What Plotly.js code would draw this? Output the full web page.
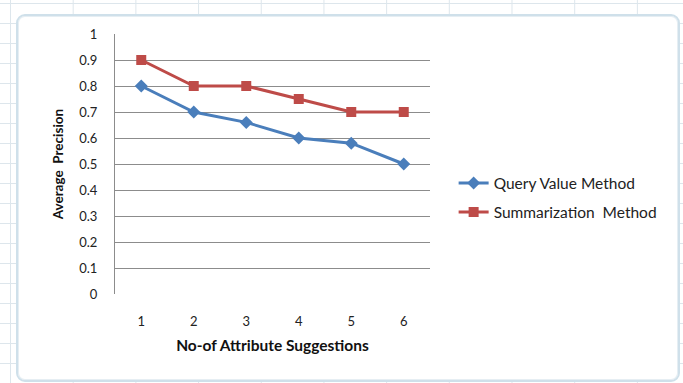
<!DOCTYPE html>
<html>
<head>
<meta charset="utf-8">
<script src="https://cdn.plot.ly/plotly-3.0.1.min.js"></script>
<style>
  html, body { margin: 0; padding: 0; background: #ffffff; }
  #wrap { position: relative; width: 683px; height: 383px; overflow: hidden;
    background-color: #ffffff;
    background-image:
      linear-gradient(to right, #dde6ec 1px, transparent 1px),
      linear-gradient(to bottom, #dde6ec 1px, transparent 1px);
    background-size: 62.7px 20px;
    background-position: 10px 3px;
  }
  #frame { position: absolute; left: 16px; top: 14px; width: 660px; height: 364px;
    border: 2px solid #cfe0ea; border-radius: 9px; background: #ffffff;
    box-shadow: inset 0 0 0 1px #e6eef3; }
  #chart { position: absolute; left: 0; top: 0; width: 683px; height: 383px; }
</style>
</head>
<body>
<div id="wrap">
  <div id="frame"></div>
  <div id="chart"></div>
</div>
<script>
const categories = [1, 2, 3, 4, 5, 6];
const queryValues = [0.80, 0.70, 0.66, 0.60, 0.58, 0.50];
const summValues = [0.90, 0.80, 0.80, 0.75, 0.70, 0.70];
const yTicks = [0, 0.1, 0.2, 0.3, 0.4, 0.5, 0.6, 0.7, 0.8, 0.9, 1];
const yTickText = ['0', '0.1', '0.2', '0.3', '0.4', '0.5', '0.6', '0.7', '0.8', '0.9', '1'];
const seriesNames = ['Query Value Method', 'Summarization  Method'];

const font = 'Lato, Carlito, "Liberation Sans", sans-serif';

const traces = [
  { x: categories, y: queryValues, name: seriesNames[0], type: 'scatter', mode: 'lines+markers',
    legendgroup: 'a',
    line: { color: '#4A7EBB', width: 3 },
    marker: { symbol: 'diamond', size: 10, color: '#4A7EBB' } },
  { x: categories, y: summValues, name: seriesNames[1], type: 'scatter', mode: 'lines+markers',
    legendgroup: 'b',
    line: { color: '#BE4B48', width: 3 },
    marker: { symbol: 'square', size: 10, color: '#BE4B48' } }
];

const layout = {
  width: 683, height: 383,
  margin: { l: 115, r: 253, t: 34, b: 89 },
  paper_bgcolor: 'rgba(0,0,0,0)',
  plot_bgcolor: 'rgba(0,0,0,0)',
  font: { family: font, size: 13, color: '#222222' },
  showlegend: true,
  legend: { x: 1.075, y: 0.37, xanchor: 'left', yanchor: 'middle',
    traceorder: 'grouped',
    font: { family: font, size: 15.5, color: '#222222' },
    tracegroupgap: 6, itemwidth: 30, bgcolor: 'rgba(0,0,0,0)' },
  xaxis: {
    range: [0.5, 6.5], tickmode: 'array', tickvals: categories,
    ticktext: categories.map(String),
    showgrid: false, zeroline: false, showline: false,
    ticks: '', ticklabelstandoff: 18,
    tickfont: { family: font, size: 13, color: '#222222' },
    title: { text: '<b>No-of Attribute Suggestions</b>', standoff: 12,
      font: { family: font, size: 15.5, color: '#111111' } }
  },
  yaxis: {
    range: [0, 1], tickmode: 'array', tickvals: yTicks, ticktext: yTickText,
    showgrid: true, gridcolor: '#8c8c8c', gridwidth: 1,
    zeroline: false, showline: true, linecolor: '#8c8c8c', linewidth: 1,
    ticks: '', ticklabelstandoff: 14,
    tickfont: { family: font, size: 13, color: '#222222' },
    title: { text: '<b>Average  Precision</b>', standoff: 12,
      font: { family: font, size: 13.5, color: '#111111' } }
  }
};

Plotly.newPlot('chart', traces, layout, { displayModeBar: false, staticPlot: true });
</script>
</body>
</html>
